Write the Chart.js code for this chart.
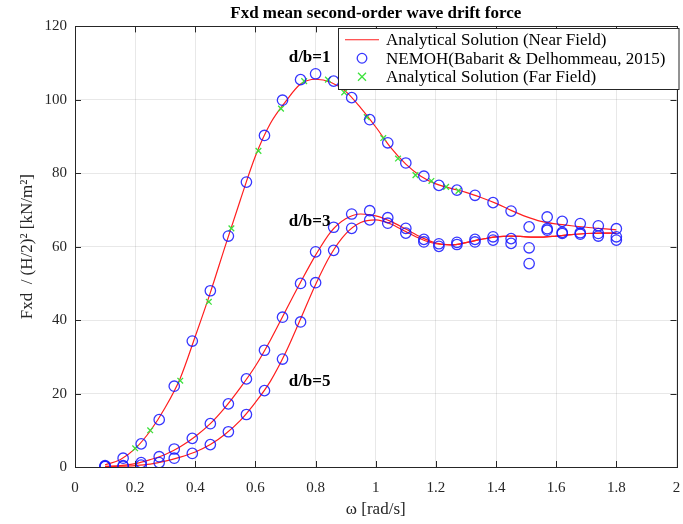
<!DOCTYPE html>
<html lang="en">
<head>
  <meta charset="UTF-8" />
  <title>Fxd mean second-order wave drift force</title>
  <script src="https://cdn.jsdelivr.net/npm/chart.js"></script>
  <style>
    html, body { margin: 0; padding: 0; background: #fff; }
    #fxdChart { display: block; }
  </style>
</head>
<body>

<canvas id="fxdChart" width="683" height="524"></canvas>

<script>
  // omega [rad/s] of the NEMOH runs
  const omegaNemoh = [0.10, 0.16, 0.22, 0.28, 0.33, 0.39, 0.45, 0.51, 0.57, 0.63,
                      0.69, 0.75, 0.80, 0.86, 0.92, 0.98, 1.04, 1.10, 1.16, 1.21,
                      1.27, 1.33, 1.39, 1.45, 1.51, 1.57, 1.62, 1.68, 1.74, 1.80];
  const nemohDb1 = [0.4, 2.4, 6.3, 12.9, 22.0, 34.3, 48.0, 62.9, 77.6, 90.3,
                    99.9, 105.5, 107.1, 105.1, 100.6, 94.6, 88.3, 82.8, 79.2, 76.7,
                    75.4, 74.0, 72.0, 69.7, 65.4, 68.1, 66.9, 66.3, 65.7, 64.9];
  const nemohDb3 = [0.2, 0.4, 1.2, 2.8, 4.9, 7.8, 11.8, 17.2, 24.0, 31.8,
                    40.8, 50.0, 58.6, 65.3, 68.9, 69.8, 67.9, 65.0, 62.0, 60.8,
                    61.2, 62.0, 62.7, 62.2, 59.7, 64.9, 63.9, 63.8, 63.6, 62.7];
  const nemohDb5 = [0.1, 0.2, 0.5, 1.2, 2.4, 3.7, 6.1, 9.6, 14.3, 20.8,
                    29.4, 39.5, 50.2, 59.0, 65.0, 67.3, 66.4, 63.7, 61.3, 60.1,
                    60.6, 61.3, 61.8, 60.9, 55.4, 64.5, 63.6, 63.4, 62.9, 61.8];

  // far field solution, d/b=1
  const omegaFar = [0.20, 0.25, 0.35, 0.445, 0.52, 0.61, 0.685, 0.762, 0.841,
                    0.895, 0.97, 1.025, 1.074, 1.132, 1.185, 1.234, 1.275];
  const farDb1 = [5.1, 10.0, 23.5, 45.0, 65.0, 86.1, 97.6, 105.1, 105.5,
                  102.0, 95.3, 89.6, 84.0, 79.5, 77.9, 76.3, 75.2];

  // near field solution curves
  const omegaCurve = [0.10, 0.15, 0.20, 0.25, 0.30, 0.35, 0.40, 0.45, 0.50, 0.55,
                      0.60, 0.65, 0.70, 0.75, 0.80, 0.85, 0.90, 0.95, 1.00, 1.05,
                      1.10, 1.15, 1.20, 1.25, 1.30, 1.35, 1.40, 1.45, 1.50, 1.55,
                      1.60, 1.65, 1.70, 1.75, 1.80];
  const nearDb1 = [0.6, 2.0, 5.0, 9.8, 16.2, 24.2, 35.6, 47.5, 60.3, 72.8,
                   84.7, 93.6, 99.5, 104.3, 105.6, 104.8, 102.3, 97.8, 92.6, 87.0,
                   82.5, 79.2, 77.1, 75.9, 74.8, 73.4, 71.8, 69.9, 68.2, 66.9,
                   66.2, 65.7, 65.3, 64.9, 64.6];
  const nearDb3 = [0.2, 0.4, 0.9, 2.0, 3.4, 5.5, 8.3, 11.8, 16.3, 21.6,
                   27.5, 34.6, 42.5, 50.3, 57.7, 64.0, 67.6, 68.9, 68.4, 66.9,
                   64.8, 62.6, 61.0, 60.5, 61.1, 62.0, 62.7, 62.9, 62.7, 62.6,
                   62.9, 63.3, 63.6, 63.7, 63.7];
  const nearDb5 = [0.1, 0.2, 0.4, 0.8, 1.6, 2.7, 4.1, 6.1, 9.0, 12.7,
                   17.6, 23.4, 31.1, 40.3, 49.7, 57.8, 63.5, 66.6, 67.3, 66.2,
                   64.1, 62.1, 60.8, 60.5, 61.1, 62.0, 62.7, 62.9, 62.7, 62.6,
                   62.9, 63.3, 63.6, 63.7, 63.7];

  const xTickValues = [0, 0.2, 0.4, 0.6, 0.8, 1, 1.2, 1.4, 1.6, 1.8, 2];
  const yTickValues = [0, 20, 40, 60, 80, 100, 120];

  const curveLabels = ['d/b=1', 'd/b=3', 'd/b=5'];
  const curveLabelOmega = [0.78, 0.78, 0.78];
  const curveLabelForce = [111.6, 66.9, 23.3];

  const SERIF = "'Liberation Serif', 'Times New Roman', serif";
  const RED = 'rgb(255, 30, 30)';
  const BLUE = 'rgba(20, 20, 255, 0.85)';
  const GREEN = 'rgb(60, 225, 60)';
  const AXIS = '#262626';

  const pts = (xs, ys) => xs.map((x, i) => ({ x: x, y: ys[i] }));

  const nearStyle = {
    showLine: true, pointRadius: 0, borderColor: RED, borderWidth: 1.2,
    cubicInterpolationMode: 'monotone', order: 3, kind: 'line'
  };
  const nemohStyle = {
    showLine: false, pointStyle: 'circle', pointRadius: 5.2, borderWidth: 1.3,
    borderColor: BLUE, backgroundColor: 'rgba(0,0,0,0)', order: 1, kind: 'circle'
  };

  // MATLAB-like box with inward ticks
  const framePlugin = {
    id: 'frame',
    afterDatasetsDraw(chart) {
      const { ctx, chartArea: a, scales } = chart;
      ctx.save();
      ctx.strokeStyle = AXIS;
      ctx.lineWidth = 1;
      ctx.strokeRect(Math.round(a.left) + 0.5, Math.round(a.top) + 0.5,
                     Math.round(a.right - a.left), Math.round(a.bottom - a.top));
      ctx.beginPath();
      xTickValues.forEach(v => {
        const px = Math.round(scales.x.getPixelForValue(v)) + 0.5;
        ctx.moveTo(px, a.bottom); ctx.lineTo(px, a.bottom - 6);
        ctx.moveTo(px, a.top); ctx.lineTo(px, a.top + 6);
      });
      yTickValues.forEach(v => {
        const py = Math.round(scales.y.getPixelForValue(v)) + 0.5;
        ctx.moveTo(a.left, py); ctx.lineTo(a.left + 6, py);
        ctx.moveTo(a.right, py); ctx.lineTo(a.right - 6, py);
      });
      ctx.stroke();

      // curve labels
      ctx.fillStyle = '#000';
      ctx.font = 'bold 17px ' + SERIF;
      ctx.textAlign = 'center';
      ctx.textBaseline = 'middle';
      curveLabels.forEach((t, i) => {
        ctx.fillText(t, scales.x.getPixelForValue(curveLabelOmega[i]),
                        scales.y.getPixelForValue(curveLabelForce[i]));
      });
      ctx.restore();
    }
  };

  // boxed legend in the upper right corner
  const legendBoxPlugin = {
    id: 'legendBox',
    afterDraw(chart) {
      const { ctx, chartArea: a } = chart;
      const items = chart.data.datasets.filter(d => d.inLegend);
      ctx.save();
      ctx.font = '17px ' + SERIF;
      const textW = Math.max(...items.map(d => ctx.measureText(d.label).width));
      const rowH = 18.5;
      const right = a.right + 2;
      const left = Math.round(right - (48 + textW + 13));
      const top = Math.round(a.top + 2);
      const h = Math.round(rowH * items.length + 5);
      ctx.fillStyle = '#fff';
      ctx.fillRect(left, top, right - left, h);
      ctx.strokeStyle = AXIS;
      ctx.lineWidth = 1;
      ctx.strokeRect(left + 0.5, top + 0.5, right - left, h);
      items.forEach((d, i) => {
        const cy = top + 2.5 + rowH * i + rowH / 2;
        const cx = left + 24;
        ctx.strokeStyle = d.borderColor;
        ctx.lineWidth = d.borderWidth;
        ctx.beginPath();
        if (d.kind === 'line') {
          ctx.moveTo(left + 7, cy); ctx.lineTo(left + 41, cy);
        } else if (d.kind === 'circle') {
          ctx.arc(cx, cy, 4.8, 0, Math.PI * 2);
        } else {
          const r = d.pointRadius;
          ctx.moveTo(cx - r, cy - r); ctx.lineTo(cx + r, cy + r);
          ctx.moveTo(cx - r, cy + r); ctx.lineTo(cx + r, cy - r);
        }
        ctx.stroke();
        ctx.fillStyle = '#000';
        ctx.textAlign = 'left';
        ctx.textBaseline = 'middle';
        ctx.fillText(d.label, left + 48, cy + 1);
      });
      ctx.restore();
    }
  };

  new Chart(document.getElementById('fxdChart'), {
    type: 'scatter',
    data: {
      datasets: [
        Object.assign({ label: 'Analytical Solution (Near Field)', data: pts(omegaCurve, nearDb1), inLegend: true }, nearStyle),
        Object.assign({ label: 'near d/b=3', data: pts(omegaCurve, nearDb3) }, nearStyle),
        Object.assign({ label: 'near d/b=5', data: pts(omegaCurve, nearDb5) }, nearStyle),
        Object.assign({ label: 'NEMOH(Babarit & Delhommeau, 2015)', data: pts(omegaNemoh, nemohDb1), inLegend: true }, nemohStyle),
        Object.assign({ label: 'nemoh d/b=3', data: pts(omegaNemoh, nemohDb3) }, nemohStyle),
        Object.assign({ label: 'nemoh d/b=5', data: pts(omegaNemoh, nemohDb5) }, nemohStyle),
        {
          label: 'Analytical Solution (Far Field)', data: pts(omegaFar, farDb1), inLegend: true,
          showLine: false, pointStyle: 'crossRot', pointRadius: 4, borderWidth: 1.3,
          borderColor: GREEN, order: 2, kind: 'cross'
        }
      ]
    },
    options: {
      responsive: false,
      animation: false,
      devicePixelRatio: 1,
      layout: { padding: { left: 0, right: -3, top: 0, bottom: 0 } },
      plugins: {
        legend: { display: false },
        tooltip: { enabled: false },
        title: {
          display: true,
          fullSize: false,
          text: 'Fxd mean second-order wave drift force',
          color: '#000',
          font: { family: SERIF, size: 17, weight: 'bold' },
          padding: { top: 3, bottom: 3 }
        }
      },
      scales: {
        x: {
          type: 'linear', min: 0, max: 2,
          afterBuildTicks: s => { s.ticks = xTickValues.map(v => ({ value: v })); },
          afterFit: s => { s.height = 57; s.paddingRight = 0; s.paddingLeft = 0; },
          ticks: {
            color: AXIS, padding: 12, maxRotation: 0, autoSkip: false,
            font: { family: SERIF, size: 15 },
            callback: v => String(Number(v.toFixed(1)))
          },
          grid: { color: 'rgba(0,0,0,0.09)', drawTicks: false },
          border: { color: AXIS },
          title: {
            display: true, text: 'ω [rad/s]', color: AXIS,
            font: { family: SERIF, size: 17 },
            padding: { top: 0, bottom: 4 }
          }
        },
        y: {
          min: 0, max: 120,
          afterBuildTicks: s => { s.ticks = yTickValues.map(v => ({ value: v })); },
          afterFit: s => { s.width = 75; s.paddingTop = 0; s.paddingBottom = 0; },
          ticks: {
            color: AXIS, padding: 8,
            font: { family: SERIF, size: 15 }
          },
          grid: { color: 'rgba(0,0,0,0.09)', drawTicks: false },
          border: { color: AXIS },
          title: {
            display: true, text: 'Fxd  / (H/2)² [kN/m²]', color: AXIS,
            font: { family: SERIF, size: 17 },
            padding: { top: 17, bottom: 0 }
          }
        }
      }
    },
    plugins: [framePlugin, legendBoxPlugin]
  });
</script>

</body>
</html>
